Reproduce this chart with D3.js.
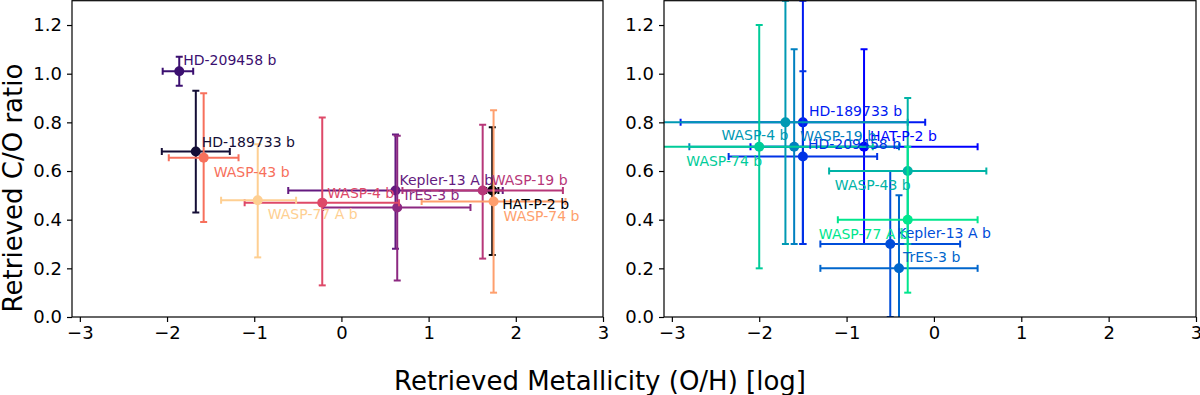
<!DOCTYPE html>
<html>
<head>
<meta charset="utf-8">
<script src="https://cdn.jsdelivr.net/npm/d3@7"></script>
<style>
  body { margin: 0; background: #fff; }
  svg { display: block; font-family: "DejaVu Sans", sans-serif; }
</style>
</head>
<body>
<div class="chart"></div>
<script>
// planets, in the order they were plotted (colour index follows this order)
const planets = ["HAT-P-2 b", "HD-189733 b", "HD-209458 b", "Kepler-13 A b", "TrES-3 b",
                 "WASP-19 b", "WASP-4 b", "WASP-43 b", "WASP-74 b", "WASP-77 A b"];

// left panel: metallicity (O/H) [log] and C/O with error ranges
const leftMetal   = [1.73, -1.67, -1.86, 0.62, 0.64, 1.62, -0.22, -1.58, 1.745, -0.96];
const leftMetalLo = [1.66, -2.06, -2.05, -0.61, -0.21, 0.70, -1.11, -1.98, 0.92, -1.38];
const leftMetalHi = [1.80, -1.28, -1.70, 1.85, 1.48, 2.54, 0.66, -1.18, 2.57, -0.52];
const leftCO      = [0.52, 0.68, 1.01, 0.52, 0.45, 0.52, 0.47, 0.655, 0.475, 0.48];
const leftCOLo    = [0.255, 0.43, 0.95, 0.28, 0.15, 0.24, 0.13, 0.39, 0.10, 0.245];
const leftCOHi    = [0.78, 0.93, 1.07, 0.75, 0.745, 0.79, 0.82, 0.92, 0.85, 0.71];

// right panel
const rightMetal   = [-0.8, -1.5, -1.5, -0.5, -0.4, -1.6, -1.7, -0.3, -2.0, -0.3];
const rightMetalLo = [-2.1, -2.9, -2.35, -1.3, -1.3, -2.8, -3.1, -1.2, -3.3, -1.1];
const rightMetalHi = [0.5, -0.1, -0.65, 0.3, 0.5, -0.4, -0.3, 0.6, -0.7, 0.5];
const rightCO      = [0.7, 0.8, 0.66, 0.3, 0.2, 0.7, 0.8, 0.6, 0.7, 0.4];
const rightCOLo    = [0.3, 0.3, 0.3, 0.0, -0.1, 0.3, 0.3, 0.3, 0.2, 0.1];
const rightCOHi    = [1.1, 1.3, 1.01, 0.6, 0.5, 1.1, 1.3, 0.9, 1.2, 0.7];

const xTicks = [-3, -2, -1, 0, 1, 2, 3];
const yTicks = [0, 0.2, 0.4, 0.6, 0.8, 1.0, 1.2];

// label placement, pixels from the point: [dx, dy, anchor]
const leftLabelPos = [[10, 19, "start"], [6, -5, "start"], [4, -6, "start"], [4, -5, "start"], [5, -7, "start"],
                      [9, -5, "start"], [5, -5, "start"], [10, 19, "start"], [10, 20, "start"], [10, 19, "start"]];
const rightLabelPos = [[6, -6, "start"], [6, -6, "start"], [5, -7, "start"], [7, -6, "start"], [4, -6, "start"],
                       [6, -6, "start"], [3, 18, "end"], [3, 19, "end"], [3, 19, "end"], [1, 19, "end"]];

const svgWidth = 1200, svgHeight = 395;
const plotTop = 0.7, plotHeight = 316.3;

const winter = d3.interpolateRgb("#0000ff", "#00ff80");

const svg = d3.select(".chart").append("svg")
    .attr("width", svgWidth)
    .attr("height", svgHeight);

function drawPanel(id, left, width, mx, mxLo, mxHi, co, coLo, coHi, labelPos, colour) {
    const x = d3.scaleLinear().domain([-3.09, 3]).range([0, width]);
    const y = d3.scaleLinear().domain([0, 1.3]).range([plotHeight, 0]);

    const g = svg.append("g").attr("transform", `translate(${left}, ${plotTop})`);

    svg.append("clipPath").attr("id", id)
        .append("rect").attr("width", width).attr("height", plotHeight);

    const data = planets.map((name, i) => ({
        name, i, x: mx[i], xLo: mxLo[i], xHi: mxHi[i], y: co[i], yLo: coLo[i], yHi: coHi[i]
    }));

    const plot = g.append("g").attr("clip-path", `url(#${id})`);
    const cap = 3.5;

    data.forEach(d => {
        const c = colour(d.i / 10);
        const p = plot.append("g").attr("stroke", c).attr("stroke-width", 2).attr("fill", "none");
        p.append("line").attr("x1", x(d.xLo)).attr("x2", x(d.xHi)).attr("y1", y(d.y)).attr("y2", y(d.y));
        p.append("line").attr("x1", x(d.x)).attr("x2", x(d.x)).attr("y1", y(d.yLo)).attr("y2", y(d.yHi));
        [d.xLo, d.xHi].forEach(v => p.append("line")
            .attr("x1", x(v)).attr("x2", x(v)).attr("y1", y(d.y) - cap).attr("y2", y(d.y) + cap));
        [d.yLo, d.yHi].forEach(v => p.append("line")
            .attr("x1", x(d.x) - cap).attr("x2", x(d.x) + cap).attr("y1", y(v)).attr("y2", y(v)));
        p.append("circle").attr("cx", x(d.x)).attr("cy", y(d.y)).attr("r", 5)
            .attr("fill", c).attr("stroke", "none");
    });

    plot.selectAll("text.lbl")
        .data(data)
        .enter()
        .append("text")
        .classed("lbl", true)
        .attr("x", d => x(d.x) + labelPos[d.i][0])
        .attr("y", d => y(d.y) + labelPos[d.i][1])
        .attr("text-anchor", d => labelPos[d.i][2])
        .attr("font-size", 14)
        .attr("fill", d => colour(d.i / 10))
        .text(d => d.name);

    // axes
    const xAxis = g.append("g")
        .attr("transform", `translate(0, ${plotHeight})`)
        .call(d3.axisBottom(x).tickValues(xTicks).tickSize(5).tickPadding(4).tickSizeOuter(0)
            .tickFormat(d3.format("d")));
    const yAxis = g.append("g")
        .call(d3.axisLeft(y).tickValues(yTicks).tickSize(5).tickPadding(5).tickSizeOuter(0)
            .tickFormat(d3.format(".1f")));
    [xAxis, yAxis].forEach(a => {
        a.selectAll("text").attr("font-size", 18).attr("fill", "#000").attr("font-family", "DejaVu Sans");
        a.selectAll("line").attr("stroke", "#000").attr("stroke-width", 1.2);
        a.select(".domain").remove();
    });

    g.append("rect")
        .attr("width", width).attr("height", plotHeight)
        .attr("fill", "none").attr("stroke", "#000").attr("stroke-width", 1.2);
}

drawPanel("clipL", 72, 531, leftMetal, leftMetalLo, leftMetalHi, leftCO, leftCOLo, leftCOHi,
    leftLabelPos, d3.interpolateMagma);
drawPanel("clipR", 664, 532, rightMetal, rightMetalLo, rightMetalHi, rightCO, rightCOLo, rightCOHi,
    rightLabelPos, winter);

// axis titles
svg.append("text")
    .attr("x", 600).attr("y", 390)
    .attr("text-anchor", "middle")
    .attr("font-size", 26)
    .text("Retrieved Metallicity (O/H) [log]");

svg.append("text")
    .attr("transform", "translate(22, 188) rotate(-90)")
    .attr("text-anchor", "middle")
    .attr("font-size", 26)
    .text("Retrieved C/O ratio");
</script>
</body>
</html>
